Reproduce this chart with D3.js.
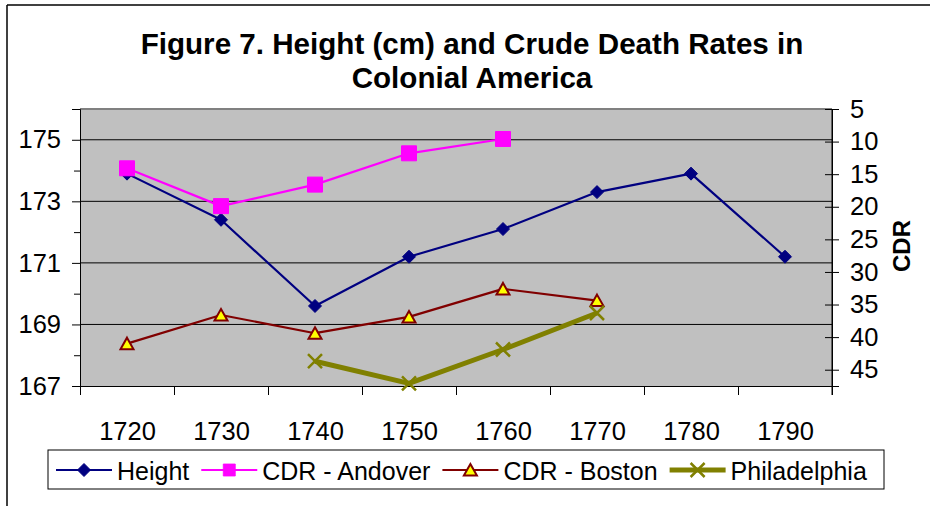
<!DOCTYPE html>
<html>
<head>
<meta charset="utf-8">
<script src="https://cdn.jsdelivr.net/npm/d3@7"></script>
<style>
  html, body { margin: 0; padding: 0; background: #fff; }
  svg { display: block; font-family: "Liberation Sans", Arial, sans-serif; }
</style>
</head>
<body>
<svg id="chart" width="930" height="506"></svg>
<script>
// chart data
const years = [1720, 1730, 1740, 1750, 1760, 1770, 1780, 1790];
const heightCm = [173.9, 172.4, 169.6, 171.2, 172.1, 173.3, 173.9, 171.2];
const cdrAndover = [14.1, 19.9, 16.6, 11.8, 9.6, null, null, null];
const cdrBoston = [41.0, 36.6, 39.4, 36.9, 32.6, 34.4, null, null];
const cdrPhiladelphia = [null, null, 43.7, 47.1, 41.9, 36.3, null, null];

const leftTicks = [167, 169, 171, 173, 175];
const leftMinorTicks = [168, 170, 172, 174, 176];
const rightTicks = [5, 10, 15, 20, 25, 30, 35, 40, 45];
const yearBounds = [1715, 1725, 1735, 1745, 1755, 1765, 1775, 1785, 1795];

const titleLines = ["Figure 7. Height (cm) and Crude Death Rates in", "Colonial America"];
const rightTitle = "CDR";
const seriesNames = ["Height", "CDR - Andover", "CDR - Boston", "Philadelphia"];

const svg = d3.select("#chart");
const plot = { left: 80, right: 832, top: 109, bottom: 386 };

const x = d3.scaleLinear().domain([1715, 1795]).range([plot.left, plot.right]);
const yLeft = d3.scaleLinear().domain([167, 176]).range([plot.bottom, plot.top]);
const yRight = d3.scaleLinear().domain([5, 47.5]).range([plot.top, plot.bottom]);

// outer chart frame (only top/left edges are visible in the frame)
svg.append("line").attr("x1", 7).attr("x2", 930).attr("y1", 5).attr("y2", 5)
  .attr("stroke", "#000").attr("stroke-width", 1.5);
svg.append("line").attr("x1", 7).attr("x2", 7).attr("y1", 5).attr("y2", 506)
  .attr("stroke", "#000").attr("stroke-width", 1.5);

// title
svg.append("text")
  .attr("x", 472).attr("text-anchor", "middle")
  .attr("font-size", 29.6).attr("font-weight", "bold")
  .selectAll("tspan").data(titleLines).join("tspan")
  .attr("x", 472).attr("y", (d, i) => 54 + i * 34)
  .text(d => d);

// plot area
svg.append("rect")
  .attr("x", plot.left).attr("y", plot.top)
  .attr("width", plot.right - plot.left).attr("height", plot.bottom - plot.top)
  .attr("fill", "#c0c0c0");
svg.append("line").attr("x1", plot.left).attr("x2", plot.right)
  .attr("y1", plot.top).attr("y2", plot.top).attr("stroke", "#808080").attr("stroke-width", 2);

// gridlines
svg.append("g").selectAll("line").data(leftTicks.slice(1)).join("line")
  .attr("x1", plot.left).attr("x2", plot.right)
  .attr("y1", d => yLeft(d)).attr("y2", d => yLeft(d))
  .attr("stroke", "#000").attr("stroke-width", 1);

// left axis
const leftAxis = svg.append("g").attr("transform", `translate(${plot.left},0)`)
  .call(d3.axisLeft(yLeft).tickValues(leftTicks).tickSize(8).tickPadding(11));
svg.append("g").attr("transform", `translate(${plot.left},0)`)
  .call(d3.axisLeft(yLeft).tickValues(leftMinorTicks).tickSize(6).tickFormat(""))
  .call(g => g.select(".domain").remove());

// right axis (secondary, reversed)
const rightAxis = svg.append("g").attr("transform", `translate(${plot.right},0)`)
  .call(d3.axisRight(yRight).tickValues(rightTicks).tickSize(7).tickPadding(11));
rightAxis.selectAll(".tick line").attr("x1", -7);

// bottom axis: boundary ticks, then labels at the category centres
const bottomAxis = svg.append("g").attr("transform", `translate(0,${plot.bottom})`)
  .call(d3.axisBottom(x).tickValues(yearBounds).tickSize(9).tickFormat(""));
const bottomLabels = svg.append("g").attr("transform", `translate(0,${plot.bottom})`)
  .call(d3.axisBottom(x).tickValues(years).tickSize(0).tickFormat(d3.format("d")));
bottomLabels.select(".domain").remove();
bottomLabels.selectAll("text").attr("y", 54).attr("dy", 0);

// right axis line runs down through last tick
svg.append("line").attr("x1", plot.right).attr("x2", plot.right)
  .attr("y1", plot.top).attr("y2", plot.bottom + 9).attr("stroke", "#000");

[leftAxis, rightAxis, bottomAxis, bottomLabels].forEach(g => {
  g.attr("font-family", null).attr("font-size", null);
  g.selectAll("text").attr("font-size", 25.5).attr("fill", "#000");
  g.selectAll("line, path").attr("stroke", "#000");
});
svg.selectAll(".domain").attr("stroke", "#000");

// right title
svg.append("text")
  .attr("transform", "translate(910,246) rotate(-90)")
  .attr("text-anchor", "middle")
  .attr("font-size", 24).attr("font-weight", "bold")
  .text(rightTitle);

// marker shapes
const markers = {
  diamond: (g) => g.append("path").attr("d", "M0,-6.5L6.5,0L0,6.5L-6.5,0Z"),
  square: (g) => g.append("path").attr("d", "M-7.5,-7.5H7.5V7.5H-7.5Z"),
  triangle: (g) => g.append("path").attr("d", "M0,-6L6.5,5.5H-6.5Z"),
  cross: (g) => g.append("path").attr("d", "M-7,-7L7,7M7,-7L-7,7")
};

const series = [
  { name: seriesNames[0], values: heightCm, y: yLeft, color: "#000080", width: 2.2,
    marker: "diamond", fill: "#000080", mstroke: "#000080", mwidth: 1 },
  { name: seriesNames[1], values: cdrAndover, y: yRight, color: "#ff00ff", width: 2.2,
    marker: "square", fill: "#ff00ff", mstroke: "#ff00ff", mwidth: 1 },
  { name: seriesNames[2], values: cdrBoston, y: yRight, color: "#800000", width: 2.2,
    marker: "triangle", fill: "#ffff00", mstroke: "#800000", mwidth: 2 },
  { name: seriesNames[3], values: cdrPhiladelphia, y: yRight, color: "#808000", width: 5,
    marker: "cross", fill: "none", mstroke: "#808000", mwidth: 2.5 }
];

series.forEach(s => {
  const pts = years.map((yr, i) => ({ yr, v: s.values[i] })).filter(d => d.v != null);
  const line = d3.line().x(d => x(d.yr)).y(d => s.y(d.v));
  svg.append("path").datum(pts)
    .attr("fill", "none").attr("stroke", s.color).attr("stroke-width", s.width)
    .attr("stroke-linejoin", "round").attr("d", line);
  pts.forEach(d => {
    const g = svg.append("g").attr("transform", `translate(${x(d.yr)},${s.y(d.v)})`);
    markers[s.marker](g).attr("fill", s.fill).attr("stroke", s.mstroke)
      .attr("stroke-width", s.mwidth).attr("stroke-linejoin", "miter");
  });
});

// legend
const legend = svg.append("g");
legend.append("rect").attr("x", 48).attr("y", 450).attr("width", 836).attr("height", 39)
  .attr("fill", "#fff").attr("stroke", "#000").attr("stroke-width", 1);
let lx = 56;
series.forEach(s => {
  const cy = 470;
  legend.append("line").attr("x1", lx).attr("x2", lx + 56).attr("y1", cy).attr("y2", cy)
    .attr("stroke", s.color).attr("stroke-width", s.width);
  const g = legend.append("g").attr("transform", `translate(${lx + 28},${cy})`);
  markers[s.marker](g).attr("fill", s.fill).attr("stroke", s.mstroke)
    .attr("stroke-width", s.mwidth)
    .attr("transform", s.marker === "square" ? "scale(0.8)" : null);
  const t = legend.append("text").attr("x", lx + 61).attr("y", 480)
    .attr("font-size", 25).text(s.name);
  lx = lx + 61 + t.node().getComputedTextLength() + 12;
});
</script>
</body>
</html>
